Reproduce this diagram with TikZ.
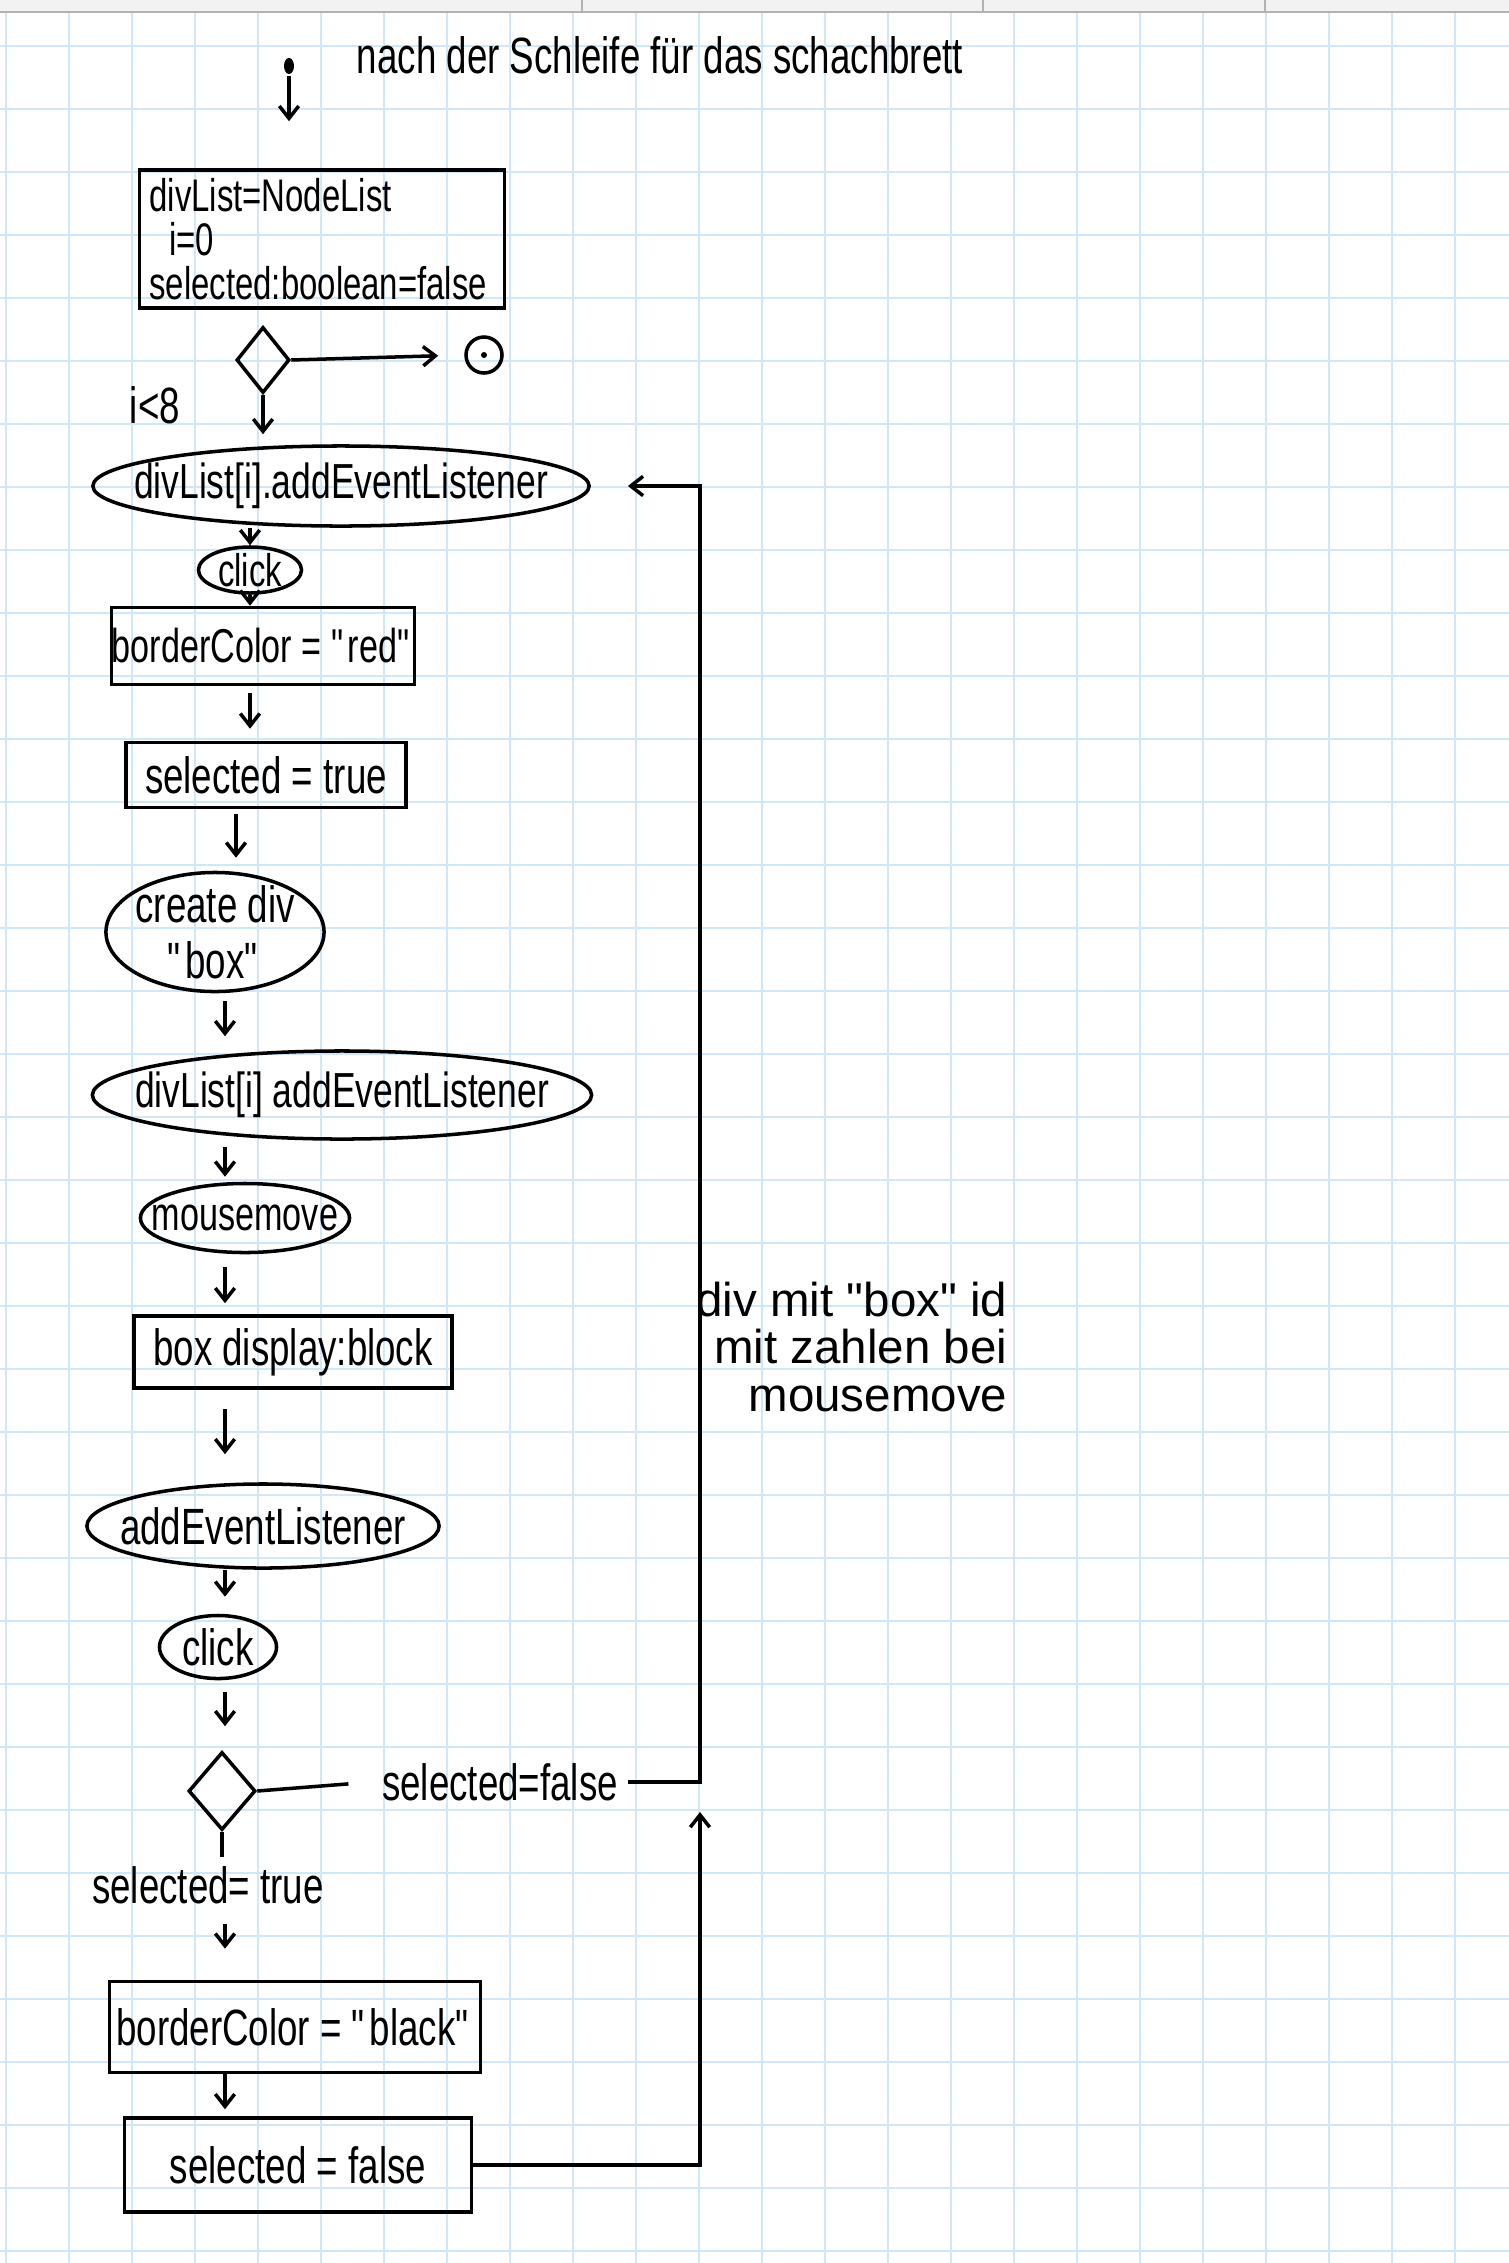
\documentclass[tikz,border=0pt]{standalone}
\usepackage{fontspec}
\setmainfont{Liberation Sans}[FakeStretch=0.72]
\newfontfamily\notefont{Liberation Sans}
\usetikzlibrary{shapes.geometric,arrows.meta}
\definecolor{gridblue}{RGB}{206,232,250}
\definecolor{headgray}{RGB}{242,242,242}
\newcommand{\qq}[1]{\textquotedbl#1\textquotedbl}

\begin{document}
\begin{tikzpicture}[
x=0.01cm, y=-0.01cm,
line width=1pt,
every node/.style={font=\fontsize{14.5}{16}\selectfont, inner sep=0.08cm},
box/.style={draw, rectangle, inner sep=0},
evt/.style={draw, ellipse, inner xsep=-0.4cm, inner ysep=-0.1cm},
decide/.style={draw, diamond, inner sep=0},
flow/.style={-{Straight Barb[length=3.5pt,width=5.5pt]}}
]
\useasboundingbox (0,0) rectangle (1509,2263);

% squared paper
\foreach \gx in {0,...,23}
  \draw[gridblue, line width=0.6pt] ({6+63*\gx},12) -- ({6+63*\gx},2263);
\foreach \gy in {0,...,35}
  \draw[gridblue, line width=0.6pt] (0,{46+63*\gy}) -- (1509,{46+63*\gy});
\fill[headgray] (0,0) rectangle (1509,12);
\draw[gray!60, line width=0.8pt] (0,12) -- (1509,12);
\foreach \hx in {582,983,1265}
  \draw[gray!60, line width=0.6pt] (\hx,0) -- (\hx,12);

\node (title) at (660,55) {nach der Schleife für das schachbrett};

\node[fill, ellipse, minimum width=0.1cm, minimum height=0.16cm, inner sep=0] (start) at (289,66) {};

\node[box, text width=3.45cm, align=left, inner xsep=0.1cm, minimum height=1.38cm,
  font=\fontsize{13}{12.5}\selectfont] (init) at (322,239)
{divList=NodeList\\\hspace{0.2cm}i=0\\selected:boolean=false};

\node[decide, minimum width=0.53cm, minimum height=0.66cm] (loop) at (263,360) {};
\node[draw, circle, minimum size=0.36cm, inner sep=0] (stop) at (484,355) {};
\fill (stop.center) circle[radius=3];
\node (cond) at (155,405) {i<8};

\node[evt, minimum width=4.96cm, minimum height=0.8cm, font=\fontsize{14}{16}\selectfont] (listen1) at (341,486)
{divList[i].addEventListener};
\node[evt, minimum width=1.03cm, minimum height=0.46cm, font=\fontsize{13}{15}\selectfont] (click1) at (250,570) {click};
\node[box, minimum width=3cm, minimum height=0.77cm, font=\fontsize{13.5}{15}\selectfont] (red) at (263,646)
{borderColor = \qq{red}};
\node[box, minimum width=2.8cm, minimum height=0.65cm] (seltrue) at (266,775)
{selected = true};
\node[evt, minimum width=2.18cm, minimum height=1.19cm, align=center, inner ysep=-0.2cm] (mkbox) at (215,932)
{create div\\\qq{box}};
\node[evt, minimum width=4.99cm, minimum height=0.88cm, font=\fontsize{14}{16}\selectfont] (listen2) at (342,1095)
{divList[i] addEventListener};
\node[evt, minimum width=2.09cm, minimum height=0.69cm, font=\fontsize{13.5}{15}\selectfont] (move) at (245,1218) {mousemove};
\node[box, minimum width=3.18cm, minimum height=0.72cm] (show) at (293,1352)
{box display:block};
\node[evt, minimum width=3.52cm, minimum height=0.84cm] (listen3) at (263,1526)
{addEventListener};
\node[evt, minimum width=1.17cm, minimum height=0.63cm] (click2) at (218,1647) {click};
\node[decide, minimum width=0.67cm, minimum height=0.78cm] (check) at (222,1791) {};
\node (isfalse) at (500,1782) {selected=false};
\node (istrue) at (208,1885) {selected= true};
\node[box, minimum width=3.71cm, minimum height=0.91cm] (black) at (295,2027)
{borderColor = \qq{black}};
\node[box, minimum width=3.47cm, minimum height=0.94cm] (selfalse) at (298,2165)
{selected = false};

\node[font=\notefont\fontsize{13.5}{13.5}\selectfont, align=right, anchor=north east] (note)
  at (1017,1272) {div mit \qq{box} id\\mit zahlen bei\\mousemove};

\coordinate (spA) at (250,0);
\coordinate (spB) at (236,0);
\coordinate (spC) at (225,0);
\coordinate (loopT) at (700,486);
\coordinate (loopB) at (700,1812);

% arrows
\draw[flow, shorten >=0.47cm] (start) -- (start |- init.north);
\draw[flow, shorten >=0.26cm] (loop.east) -- (stop.west);
\draw[flow, shorten >=0.1cm] (loop.south) -- (loop.south |- listen1.north);
\draw[flow] (click1 |- listen1.south) -- (click1.north);
\draw[flow] (click1.south) -- (click1.south |- red.north);
\draw[flow, shorten <=0.07cm, shorten >=0.12cm] (red.south -| spA) -- (seltrue.north -| spA);
\draw[flow, shorten <=0.05cm, shorten >=0.13cm] (seltrue.south -| spB) -- (mkbox.north -| spB);
\draw[flow, shorten <=0.08cm, shorten >=0.13cm] (mkbox.south -| spC) -- (listen2.north -| spC);
\draw[flow, shorten <=0.06cm, shorten >=0.05cm] (listen2.south -| spC) -- (move.north -| spC);
\draw[flow, shorten <=0.13cm, shorten >=0.11cm] (move.south -| spC) -- (show.north -| spC);
\draw[flow, shorten <=0.19cm, shorten >=0.28cm] (show.south -| spC) -- (listen3.north -| spC);
\draw[flow, shorten >=0.17cm] (listen3.south -| spC) -- (click2.north -| spC);
\draw[flow, shorten <=0.12cm, shorten >=0.24cm] (click2.south -| spC) -- (check.north -| spC);
\draw (check.south) -- (check.south |- istrue.north);
\draw[flow, shorten <=0.1cm, shorten >=0.31cm] (istrue.south -| spC) -- (black.north -| spC);
\draw[flow, shorten >=0.07cm] (black.south -| spC) -- (selfalse.north -| spC);

% back to the top
\draw[shorten >=0.24cm] (check.east) -- (isfalse.west);
\draw[flow, shorten >=0.37cm] (isfalse.east) -| (loopT) -- (listen1.east);
\draw[flow] (selfalse.east) -| (loopB);

\end{tikzpicture}
\end{document}
